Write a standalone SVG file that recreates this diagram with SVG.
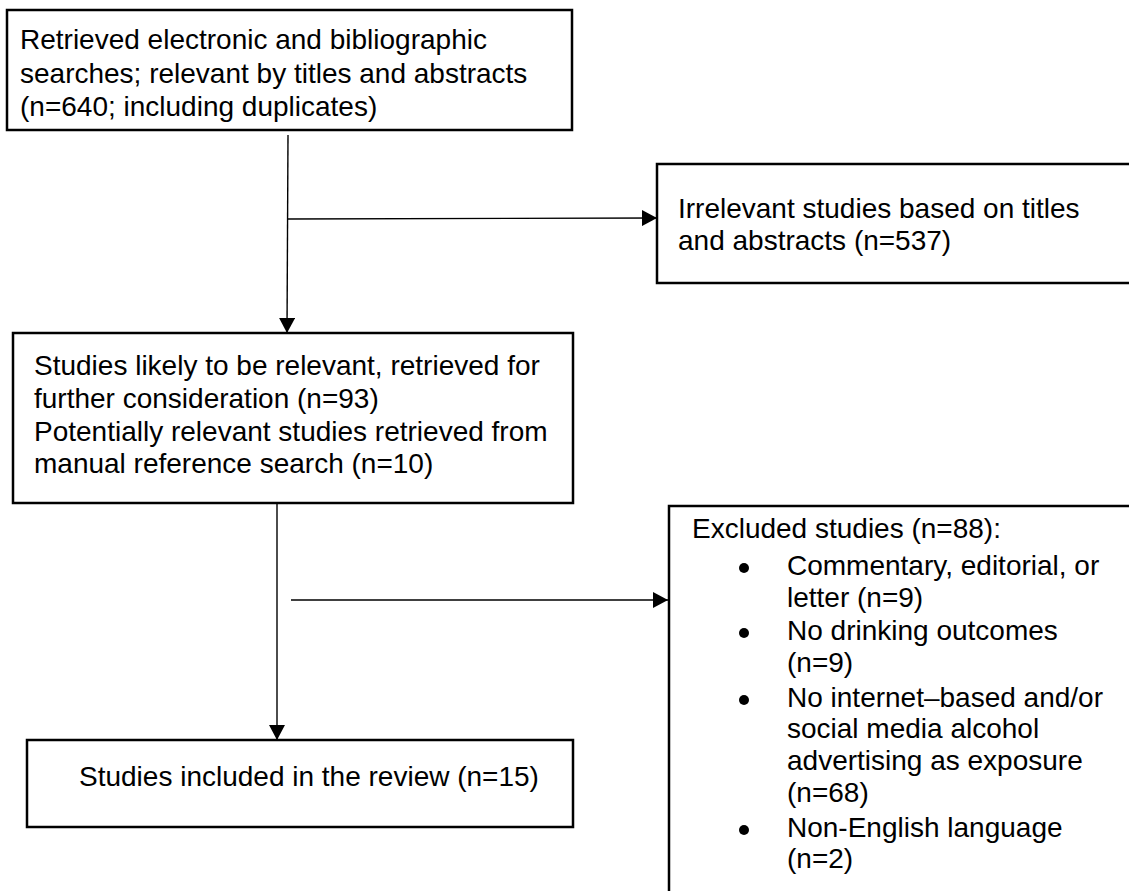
<svg xmlns="http://www.w3.org/2000/svg" width="1129" height="891" viewBox="0 0 1129 891">
<style>
.box{fill:#fff;stroke:#000;stroke-width:2.5}
.t{font-family:"Liberation Sans",Arial,sans-serif;font-size:28px;fill:#000}
.ln{stroke:#000;stroke-width:1.4;fill:none}
.bul{fill:#000}
</style>
<defs>
<marker id="ah" markerWidth="16" markerHeight="16" refX="15" refY="8" orient="auto" markerUnits="userSpaceOnUse">
<path d="M0,0 L15,8 L0,16 Z" fill="#000"/>
</marker>
</defs>
<rect width="1129" height="891" fill="#fff"/>
<g id="connectors">
<line class="ln" x1="288" y1="135" x2="287" y2="333" marker-end="url(#ah)"/>
<line class="ln" x1="288" y1="219" x2="657" y2="218" marker-end="url(#ah)"/>
<line class="ln" x1="277" y1="503" x2="277" y2="740" marker-end="url(#ah)"/>
<line class="ln" x1="291" y1="600" x2="668" y2="600" marker-end="url(#ah)"/>
</g>
<g id="n1">
<rect class="box" x="7" y="10" width="565" height="120"/>
<text class="t" x="20" y="49">Retrieved electronic and bibliographic</text>
<text class="t" x="20" y="83">searches; relevant by titles and abstracts</text>
<text class="t" x="20" y="116">(n=640; including duplicates)</text>
</g>
<g id="n2">
<rect class="box" x="657" y="164" width="480" height="119"/>
<text class="t" x="678" y="218">Irrelevant studies based on titles</text>
<text class="t" x="678" y="250">and abstracts (n=537)</text>
</g>
<g id="n3">
<rect class="box" x="13" y="333" width="560" height="170"/>
<text class="t" x="34" y="375">Studies likely to be relevant, retrieved for</text>
<text class="t" x="34" y="408">further consideration (n=93)</text>
<text class="t" x="34" y="441">Potentially relevant studies retrieved from</text>
<text class="t" x="34" y="473">manual reference search (n=10)</text>
</g>
<g id="n4">
<rect class="box" x="27" y="740" width="546" height="87"/>
<text class="t" x="79" y="786">Studies included in the review (n=15)</text>
</g>
<g id="n5">
<rect class="box" x="669" y="506" width="470" height="400"/>
<text class="t" x="692" y="538">Excluded studies (n=88):</text>
<circle class="bul" cx="744" cy="568" r="5"/>
<text class="t" x="787" y="575">Commentary, editorial, or</text>
<text class="t" x="787" y="607">letter (n=9)</text>
<circle class="bul" cx="744" cy="633" r="5"/>
<text class="t" x="787" y="640">No drinking outcomes</text>
<text class="t" x="787" y="672">(n=9)</text>
<circle class="bul" cx="744" cy="700" r="5"/>
<text class="t" x="787" y="707">No internet–based and/or</text>
<text class="t" x="787" y="738">social media alcohol</text>
<text class="t" x="787" y="770">advertising as exposure</text>
<text class="t" x="787" y="802">(n=68)</text>
<circle class="bul" cx="744" cy="830" r="5"/>
<text class="t" x="787" y="837">Non-English language</text>
<text class="t" x="787" y="868">(n=2)</text>
</g>
</svg>
